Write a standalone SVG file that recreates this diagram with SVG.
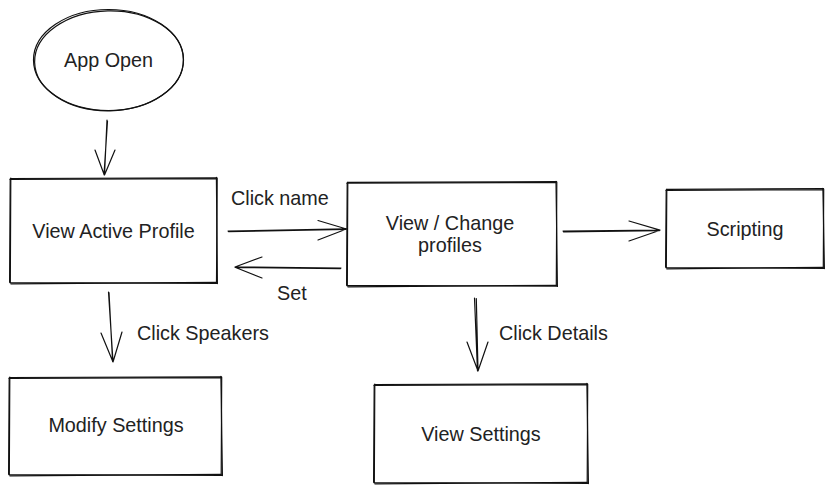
<svg xmlns="http://www.w3.org/2000/svg" width="833" height="494" viewBox="0 0 833 494">
<style>
.s{fill:none;stroke:#111;stroke-width:1.2;stroke-linecap:round;stroke-linejoin:round}
.t{font-family:"Liberation Sans",Arial,sans-serif;font-size:19.8px;fill:#222}
.m{text-anchor:middle}
</style>
<rect width="833" height="494" fill="#fff"/>
<g id="app-open">
<ellipse class="s" cx="108.5" cy="60" rx="75" ry="50.5"/>
<ellipse class="s" cx="109" cy="60.8" rx="74.4" ry="50" transform="rotate(-1.2 109 60.8)"/>
<text class="t m" x="108.5" y="67">App Open</text>
</g>
<g id="view-active-profile">
<path class="s" d="M10.5 178.5 L217 177.8 M217.2 178 L216.5 283 M217 283.3 L10 282.5 M10.3 283 L10.8 178"/>
<path class="s" d="M9.8 179.3 L216.3 178.7 M216.4 177.4 L217.4 283.6 M216.2 282.4 L10.9 283.8 M9.6 282.2 L10.2 178.9"/>
<text class="t m" x="113.5" y="238">View Active Profile</text>
</g>
<g id="view-change-profiles">
<path class="s" d="M347.5 182.4 L556.6 181.6 M556.8 182 L556.3 286 M557 286.2 L347 285.4 M347.3 286 L347.8 182"/>
<path class="s" d="M346.8 183.2 L555.9 182.5 M556 181.3 L557.4 286.5 M556.1 285.3 L347.9 286.8 M346.6 285.2 L347.2 182.8"/>
<text class="t m" x="450" y="230">View / Change</text>
<text class="t m" x="450" y="252">profiles</text>
</g>
<g id="scripting">
<path class="s" d="M666.5 189.4 L823.5 188.5 M823.7 189 L823.3 268 M824 268.3 L666 267.5 M666.3 268 L666.8 189"/>
<path class="s" d="M665.8 190.3 L822.8 189.6 M822.9 188.3 L824.4 268.6 M823 267.3 L666.9 268.9 M665.6 267.1 L666.2 189.8"/>
<text class="t m" x="745" y="236">Scripting</text>
</g>
<g id="modify-settings">
<path class="s" d="M9.5 377.5 L221.5 376.8 M221.7 377 L221.2 475 M222 475.3 L9 474.5 M9.3 475 L9.8 377"/>
<path class="s" d="M8.8 378.3 L220.8 377.6 M220.9 376.4 L222.4 475.6 M221 474.4 L9.9 475.8 M8.6 474.2 L9.2 377.9"/>
<text class="t m" x="116" y="432">Modify Settings</text>
</g>
<g id="view-settings">
<path class="s" d="M374.5 384.5 L587.5 383.8 M587.7 384 L587.2 483 M588 483.3 L374 482.5 M374.3 483 L374.8 384"/>
<path class="s" d="M373.8 385.3 L586.8 384.6 M586.9 383.4 L588.4 483.6 M587 482.4 L374.9 483.8 M373.6 482.2 L374.2 384.9"/>
<text class="t m" x="481" y="441">View Settings</text>
</g>
<g id="connectors">
<path class="s" d="M107 120 L104.5 175 M107.5 121 L104 174.5 M95 150 L104.3 175 M115 150 L104.5 175"/>
<path class="s" d="M228 231 L346.5 228.8 M228.5 231.6 L346 229.4 M318 220.5 L346.5 229 M318 240 L346.5 229"/>
<text class="t" x="231" y="205">Click name</text>
<path class="s" d="M341 268 L235 267 M340.5 268.6 L235.5 267.5 M262 257 L235 267 M262 278 L235 267.3"/>
<text class="t" x="277" y="300">Set</text>
<path class="s" d="M563 231 L660 230 M563.5 231.8 L659.5 230.6 M629 221 L660 230.2 M629 241 L660 230.2"/>
<path class="s" d="M108.5 292 L113 362 M109 292.5 L112.6 361.5 M101 333 L113 362 M122 332 L113 362"/>
<text class="t" x="137" y="340">Click Speakers</text>
<path class="s" d="M474.5 298 L477.5 371 M476.3 298.5 L478 370.5 M467 342 L478 371 M488 342 L478 371"/>
<text class="t" x="499" y="340">Click Details</text>
</g>
</svg>
